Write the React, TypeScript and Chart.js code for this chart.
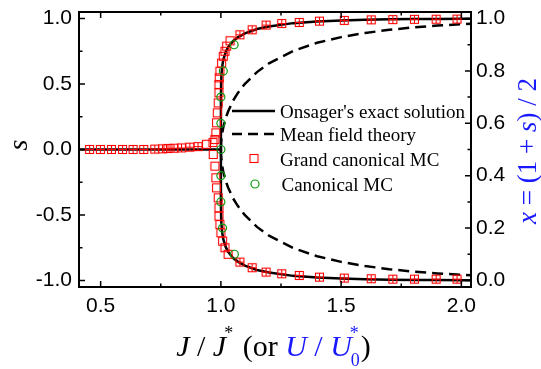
import { useEffect, useRef } from 'react';
import { Chart, registerables } from 'chart.js';

Chart.register(...registerables);

// ---- axis ticks ----
const xTicks = [0.5, 1.0, 1.5, 2.0];
const xMinorTicks = [0.75, 1.25, 1.75];
const sTicks = [-1.0, -0.5, 0.0, 0.5, 1.0];
const sMinorTicks = [-0.75, -0.25, 0.25, 0.75];
const fracTicks = [0.0, 0.2, 0.4, 0.6, 0.8, 1.0];
const fracMinorTicks = [0.1, 0.3, 0.5, 0.7, 0.9];

// ---- Onsager's exact solution ----
const onsagerFlatX = [0.41, 1.0];
const onsagerFlatS = [0, 0];
const onsagerUpX = [1.0, 1.0001, 1.001, 1.002, 1.005, 1.01, 1.02, 1.03, 1.05, 1.07, 1.1, 1.15, 1.2, 1.3, 1.4, 1.5, 1.6, 1.7, 1.8, 1.9, 2.0, 2.04];
const onsagerUpS = [0, 0.386, 0.515, 0.562, 0.629, 0.685, 0.744, 0.781, 0.827, 0.856, 0.887, 0.92, 0.94, 0.965, 0.978, 0.986, 0.991, 0.994, 0.996, 0.997, 0.998, 0.9985];
const onsagerLowX = [1.0, 1.0001, 1.001, 1.002, 1.005, 1.01, 1.02, 1.03, 1.05, 1.07, 1.1, 1.15, 1.2, 1.3, 1.4, 1.5, 1.6, 1.7, 1.8, 1.9, 2.0, 2.04];
const onsagerLowS = [0, -0.386, -0.515, -0.562, -0.629, -0.685, -0.744, -0.781, -0.827, -0.856, -0.887, -0.92, -0.94, -0.965, -0.978, -0.986, -0.991, -0.994, -0.996, -0.997, -0.998, -0.9985];

// ---- Mean field theory ----
const mfUpX = [1.0, 1.001, 1.005, 1.01, 1.02, 1.03, 1.05, 1.07, 1.1, 1.15, 1.2, 1.3, 1.4, 1.5, 1.6, 1.7, 1.8, 1.9, 2.0, 2.04];
const mfUpS = [0, 0.055, 0.122, 0.17, 0.24, 0.29, 0.371, 0.43, 0.502, 0.591, 0.658, 0.752, 0.815, 0.858, 0.89, 0.914, 0.932, 0.946, 0.957, 0.961];
const mfLowX = [1.0, 1.001, 1.005, 1.01, 1.02, 1.03, 1.05, 1.07, 1.1, 1.15, 1.2, 1.3, 1.4, 1.5, 1.6, 1.7, 1.8, 1.9, 2.0, 2.04];
const mfLowS = [0, -0.055, -0.122, -0.17, -0.24, -0.29, -0.371, -0.43, -0.502, -0.591, -0.658, -0.752, -0.815, -0.858, -0.89, -0.914, -0.932, -0.946, -0.957, -0.961];

// ---- Grand canonical MC ----
const gcmcFlatX = [0.454, 0.499, 0.545, 0.591, 0.635, 0.679, 0.725, 0.757, 0.78, 0.805, 0.836, 0.871, 0.905, 0.94];
const gcmcFlatS = [0, 0, 0, 0, 0, 0, 0.003, 0.005, 0.008, 0.01, 0.012, 0.018, 0.022, 0.04];
const gcmcUpX = [0.967, 0.975, 0.979, 0.982, 0.985, 0.989, 0.992, 0.992, 0.993, 0.996, 1.003, 1.01, 1.017, 1.024, 1.038, 1.079, 1.13, 1.188, 1.253, 1.326, 1.41, 1.513, 1.625, 1.715, 1.805, 1.895, 1.982];
const gcmcUpS = [0.053, 0.076, 0.127, 0.204, 0.28, 0.356, 0.433, 0.496, 0.547, 0.598, 0.66, 0.712, 0.75, 0.789, 0.83, 0.876, 0.914, 0.95, 0.962, 0.97, 0.98, 0.986, 0.99, 0.992, 0.994, 0.995, 0.996];
const gcmcLowX = [0.968, 0.975, 0.979, 0.982, 0.989, 0.992, 0.992, 0.996, 1.0, 1.007, 1.017, 1.03, 1.079, 1.13, 1.188, 1.253, 1.326, 1.41, 1.513, 1.625, 1.715, 1.805, 1.895, 1.982];
const gcmcLowS = [-0.038, -0.127, -0.216, -0.293, -0.369, -0.445, -0.509, -0.573, -0.636, -0.7, -0.75, -0.8, -0.86, -0.903, -0.936, -0.949, -0.962, -0.975, -0.982, -0.987, -0.99, -0.99, -0.99, -0.99];

// ---- Canonical MC ----
const cmcX = [1.055, 1.01, 1.0, 1.0, 1.0, 1.0, 1.0, 1.007, 1.056];
const cmcS = [0.8, 0.6, 0.4, 0.2, 0.0, -0.2, -0.4, -0.6, -0.8];

const legendLabels = ["Onsager's exact solution", 'Mean field theory', 'Grand canonical MC', 'Canonical MC'];

const SERIF = '"Liberation Serif", "Times New Roman", serif';
const SANS = '"Liberation Sans", Arial, sans-serif';
const BLUE = 'rgb(25,25,255)';
const RED = '#ff0000';
const GREEN = '#0f9a0f';

const zip = (xs: number[], ys: number[]) => xs.map((x, i) => ({ x, y: ys[i] }));

function makeSquare(cross: boolean) {
  const c = document.createElement('canvas');
  c.width = 11;
  c.height = 11;
  const g = c.getContext('2d')!;
  g.strokeStyle = RED;
  g.lineWidth = 1.1;
  g.strokeRect(1.5, 1.5, 8, 8);
  if (cross) {
    g.beginPath();
    g.moveTo(5.5, 1.5);
    g.lineTo(5.5, 9.5);
    g.moveTo(1.5, 5.5);
    g.lineTo(9.5, 5.5);
    g.stroke();
  }
  return c;
}

export default function App() {
  const ref = useRef<HTMLCanvasElement | null>(null);

  useEffect(() => {
    if (!ref.current) return;
    const crossSq = makeSquare(true);
    const plainSq = makeSquare(false);

    const decor = {
      id: 'decor',
      afterDatasetsDraw(chart: any) {
        const ctx = chart.ctx as CanvasRenderingContext2D;
        const { left, right, top, bottom } = chart.chartArea;
        const xs = chart.scales.x;
        const ys = chart.scales.y;
        const y2 = chart.scales.y2;
        const MAJ = 6;
        const MIN = 3.5;
        ctx.save();
        ctx.strokeStyle = '#000';
        ctx.lineWidth = 1.5;
        ctx.beginPath();
        const xt = (v: number, len: number) => {
          const p = xs.getPixelForValue(v);
          ctx.moveTo(p, bottom);
          ctx.lineTo(p, bottom - len);
          ctx.moveTo(p, top);
          ctx.lineTo(p, top + len);
        };
        xTicks.forEach((v) => xt(v, MAJ));
        xMinorTicks.forEach((v) => xt(v, MIN));
        const yt = (v: number, len: number) => {
          const p = ys.getPixelForValue(v);
          ctx.moveTo(left, p);
          ctx.lineTo(left + len, p);
        };
        sTicks.forEach((v) => yt(v, MAJ));
        sMinorTicks.forEach((v) => yt(v, MIN));
        const rt = (v: number, len: number) => {
          const p = y2.getPixelForValue(v);
          ctx.moveTo(right, p);
          ctx.lineTo(right - len, p);
        };
        fracTicks.forEach((v) => rt(v, MAJ));
        fracMinorTicks.forEach((v) => rt(v, MIN));
        ctx.stroke();
        ctx.lineWidth = 2;
        ctx.strokeRect(left, top, right - left, bottom - top);
        ctx.restore();
      },
      afterDraw(chart: any) {
        const ctx = chart.ctx as CanvasRenderingContext2D;
        ctx.save();
        ctx.textAlign = 'left';
        ctx.textBaseline = 'alphabetic';

        // left title "s"
        ctx.save();
        ctx.translate(27, 145);
        ctx.rotate(-Math.PI / 2);
        ctx.fillStyle = '#000';
        ctx.font = `italic 28px ${SERIF}`;
        ctx.textAlign = 'center';
        ctx.fillText('s', 0, 0);
        ctx.restore();

        // right title x = (1 + s) / 2
        {
          const parts = [
            { t: 'x', f: `italic 27px ${SERIF}` },
            { t: ' = (1 + ', f: `27px ${SERIF}` },
            { t: 's', f: `italic 27px ${SERIF}` },
            { t: ') / 2', f: `27px ${SERIF}` },
          ];
          let total = 0;
          const ws = parts.map((p) => {
            ctx.font = p.f;
            const w = ctx.measureText(p.t).width;
            total += w;
            return w;
          });
          ctx.save();
          ctx.translate(536, 151);
          ctx.rotate(-Math.PI / 2);
          ctx.fillStyle = BLUE;
          let cx = -total / 2;
          parts.forEach((p, i) => {
            ctx.font = p.f;
            ctx.fillText(p.t, cx, 0);
            cx += ws[i];
          });
          ctx.restore();
        }

        // bottom title J / J* (or U / U*0)
        {
          const F = 30;
          const S = 18;
          const base = 356;
          type P = { t?: string; sup?: string; sub?: string; it?: boolean; c: string };
          const parts: P[] = [
            { t: 'J', it: true, c: '#000' },
            { t: ' / ', c: '#000' },
            { t: 'J', it: true, c: '#000' },
            { sup: '*', c: '#000' },
            { t: ' (or ', c: '#000' },
            { t: 'U', it: true, c: BLUE },
            { t: ' / ', c: BLUE },
            { t: 'U', it: true, c: BLUE },
            { sup: '*', sub: '0', c: BLUE },
            { t: ')', c: '#000' },
          ];
          const widths = parts.map((p) => {
            if (p.t) {
              ctx.font = `${p.it ? 'italic ' : ''}${F}px ${SERIF}`;
              return ctx.measureText(p.t).width;
            }
            ctx.font = `${S}px ${SERIF}`;
            return Math.max(ctx.measureText(p.sup || '').width, ctx.measureText(p.sub || '').width);
          });
          const total = widths.reduce((a, b) => a + b, 0);
          let cx = 273.5 - total / 2;
          parts.forEach((p, i) => {
            ctx.fillStyle = p.c;
            if (p.t) {
              ctx.font = `${p.it ? 'italic ' : ''}${F}px ${SERIF}`;
              ctx.fillText(p.t, cx, base);
            } else {
              ctx.font = `${S}px ${SERIF}`;
              if (p.sup) ctx.fillText(p.sup, cx - 2, base - 17);
              if (p.sub) ctx.fillText(p.sub, cx - 1, base + 10);
            }
            cx += widths[i];
          });
        }

        // legend
        ctx.font = `19px ${SERIF}`;
        ctx.fillStyle = '#000';
        const tx = 280;
        const rows = [111, 134, 158.5, 184];
        const baseOff = 7;
        ctx.strokeStyle = '#000';
        ctx.lineWidth = 2.5;
        ctx.beginPath();
        ctx.moveTo(232, rows[0]);
        ctx.lineTo(275, rows[0]);
        ctx.stroke();
        ctx.setLineDash([10, 6]);
        ctx.beginPath();
        ctx.moveTo(232, rows[1]);
        ctx.lineTo(275, rows[1]);
        ctx.stroke();
        ctx.setLineDash([]);
        ctx.drawImage(plainSq, 254 - 5.5, rows[2] - 5.5);
        ctx.strokeStyle = GREEN;
        ctx.lineWidth = 1.2;
        ctx.beginPath();
        ctx.arc(255, rows[3], 4, 0, Math.PI * 2);
        ctx.stroke();
        legendLabels.forEach((l, i) => {
          ctx.fillText(l, tx + (i === 3 ? 1.5 : 0), rows[i] + baseOff);
        });
        ctx.restore();
      },
    };

    const lineCommon = {
      showLine: true,
      pointRadius: 0,
      pointHoverRadius: 0,
      borderColor: '#000',
      borderWidth: 2.5,
      fill: false,
      tension: 0,
    };

    const gcmcAll = [...zip(gcmcFlatX, gcmcFlatS), ...zip(gcmcUpX, gcmcUpS), ...zip(gcmcLowX, gcmcLowS)];

    const chart = new Chart(ref.current, {
      type: 'scatter',
      data: {
        datasets: [
          {
            label: legendLabels[3],
            data: zip(cmcX, cmcS),
            pointStyle: 'circle',
            pointRadius: 4,
            pointBorderColor: GREEN,
            pointBackgroundColor: 'rgba(0,0,0,0)',
            pointBorderWidth: 1.2,
            order: 0,
          },
          {
            label: legendLabels[2],
            data: gcmcAll,
            pointStyle: (c: any) => {
              const p = c.raw;
              return p && (p.x < 0.93 || p.x > 1.06) ? crossSq : plainSq;
            },
            pointRadius: 5,
            order: 1,
          },
          { ...lineCommon, label: 'flat', data: zip(onsagerFlatX, onsagerFlatS), order: 3 },
          { ...lineCommon, label: legendLabels[0], data: zip(onsagerUpX, onsagerUpS), order: 3 },
          { ...lineCommon, label: 'ons-low', data: zip(onsagerLowX, onsagerLowS), order: 3 },
          { ...lineCommon, label: legendLabels[1], data: zip(mfUpX, mfUpS), borderDash: [11, 6], order: 2 },
          { ...lineCommon, label: 'mf-low', data: zip(mfLowX, mfLowS), borderDash: [11, 6], order: 2 },
        ] as any,
      },
      options: {
        animation: false,
        responsive: false,
        devicePixelRatio: 1,
        layout: { padding: { top: 12, left: 0, right: 0, bottom: 0 } },
        plugins: { legend: { display: false }, tooltip: { enabled: false }, title: { display: false } },
        events: [],
        scales: {
          x: {
            type: 'linear',
            position: 'bottom',
            min: 0.41,
            max: 2.04,
            grid: { display: false, drawTicks: false },
            border: { display: false },
            afterBuildTicks: (s: any) => {
              s.ticks = xTicks.map((v) => ({ value: v }));
            },
            afterFit: (s: any) => {
              s.height = 82;
              s.paddingLeft = 0;
              s.paddingRight = 0;
            },
            ticks: {
              padding: 7,
              color: '#000',
              font: { family: SANS, size: 21 },
              maxRotation: 0,
              callback: (v: any) => Number(v).toFixed(1),
            },
          },
          y: {
            type: 'linear',
            position: 'left',
            min: -1.05,
            max: 1.05,
            grid: { display: false, drawTicks: false },
            border: { display: false },
            afterBuildTicks: (s: any) => {
              s.ticks = sTicks.map((v) => ({ value: v }));
            },
            afterFit: (s: any) => {
              s.width = 79;
              s.paddingTop = 0;
              s.paddingBottom = 0;
            },
            ticks: {
              padding: 7,
              color: '#000',
              font: { family: SANS, size: 21 },
              callback: (v: any) => Number(v).toFixed(1),
            },
          },
          y2: {
            type: 'linear',
            position: 'right',
            min: -0.025,
            max: 1.025,
            grid: { display: false, drawTicks: false },
            border: { display: false },
            afterBuildTicks: (s: any) => {
              s.ticks = fracTicks.map((v) => ({ value: v }));
            },
            afterFit: (s: any) => {
              s.width = 70;
              s.paddingTop = 0;
              s.paddingBottom = 0;
            },
            ticks: {
              padding: 5,
              color: '#000',
              font: { family: SANS, size: 21 },
              callback: (v: any) => Number(v).toFixed(1),
            },
          },
        },
      } as any,
      plugins: [decor],
    });
    return () => chart.destroy();
  }, []);

  return (
    <div style={{ position: 'absolute', left: 0, top: 0, width: 541, height: 369, background: '#fff' }}>
      <canvas ref={ref} width={541} height={369} style={{ display: 'block' }} />
    </div>
  );
}
